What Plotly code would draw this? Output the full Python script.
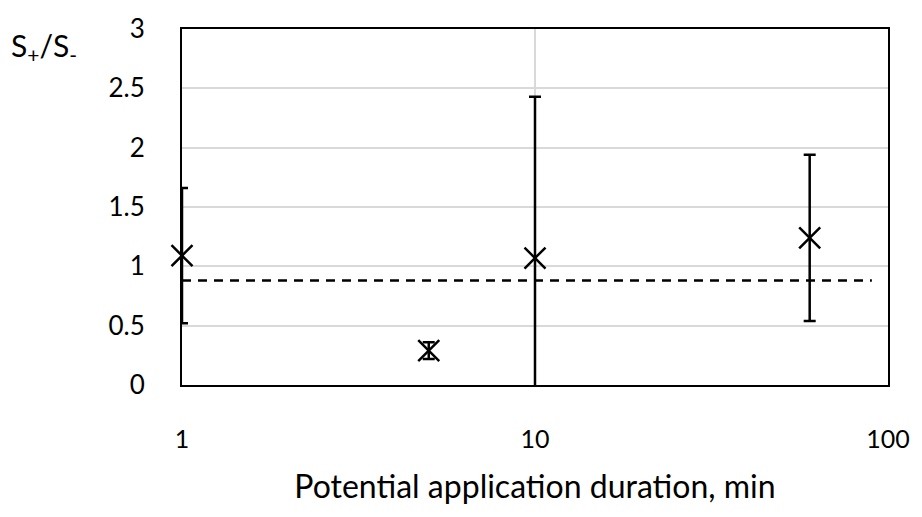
import plotly.graph_objects as go

# Potential application duration (min) and measured ratio S+/S-
duration = [1, 5, 10, 60]
ratio = [1.09, 0.29, 1.07, 1.24]
ratio_err = [0.57, 0.07, 1.36, 0.70]

# Reference level drawn as a dashed line
ref_x = [1, 90]
ref_y = [0.88, 0.88]

x_ticks = [1, 10, 100]
y_ticks = [0, 0.5, 1, 1.5, 2, 2.5, 3]

FONT = "Lato"

fig = go.Figure()

fig.add_trace(go.Scatter(
    x=ref_x, y=ref_y, mode="lines",
    line=dict(color="black", width=2.5, dash="9px,7px"),
    hoverinfo="skip", showlegend=False,
))

# Points whose whiskers fit inside the axis are drawn unclipped (so the
# marker on the left border stays whole); a whisker running below y = 0
# is cut off at the axis instead.
inside = [r - e >= 0 for r, e in zip(ratio, ratio_err)]
for keep_clip in (False, True):
    idx = [i for i, ok in enumerate(inside) if ok != keep_clip]
    if not idx:
        continue
    fig.add_trace(go.Scatter(
        x=[duration[i] for i in idx], y=[ratio[i] for i in idx],
        mode="markers", cliponaxis=keep_clip,
        marker=dict(symbol="x-thin", size=21,
                    line=dict(color="black", width=2.5), color="black"),
        error_y=dict(type="data", array=[ratio_err[i] for i in idx], visible=True,
                     color="black", thickness=2.5, width=6),
        showlegend=False,
    ))

fig.update_layout(
    width=922, height=517,
    margin=dict(l=182, r=25, t=24, b=132),
    paper_bgcolor="white", plot_bgcolor="white",
    font=dict(family=FONT, size=25, color="black"),
    xaxis=dict(
        type="log", range=[0, 2],
        tickvals=x_ticks, ticktext=[str(v) for v in x_ticks],
        tickfont=dict(family=FONT, size=25, color="black"),
        showgrid=True, gridcolor="#d9d9d9", gridwidth=1.5,
        showline=True, linecolor="black", linewidth=2, mirror=True,
        ticks="", ticklabelstandoff=31, zeroline=False,
        title=dict(text="Potential application duration, min",
                   font=dict(family=FONT, size=32, color="black"), standoff=24),
    ),
    yaxis=dict(
        range=[0, 3], tickvals=y_ticks,
        ticktext=[f"{v:g}" for v in y_ticks],
        tickfont=dict(family=FONT, size=26, color="black"),
        showgrid=True, gridcolor="#d9d9d9", gridwidth=1.5,
        showline=True, linecolor="black", linewidth=2, mirror=True,
        ticks="", ticklabelstandoff=30, zeroline=False,
    ),
    annotations=[dict(
        text="S<sub>+</sub>/S<sub>-</sub>", xref="paper", yref="paper",
        x=-0.245, y=0.95, xanchor="left", yanchor="middle",
        showarrow=False, font=dict(family=FONT, size=30, color="black"),
    )],
)

fig.write_html("out.html")
